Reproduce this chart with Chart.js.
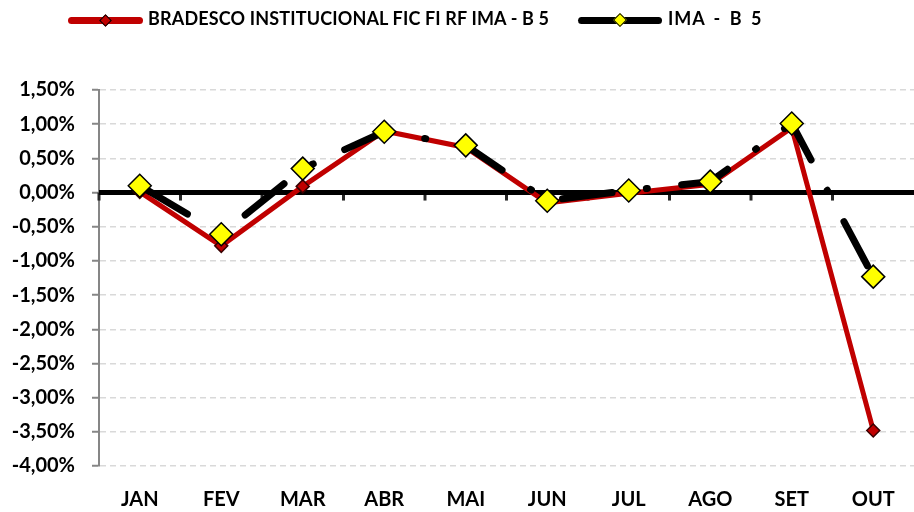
<!DOCTYPE html>
<html>
<head>
<meta charset="utf-8">
<script src="https://cdn.jsdelivr.net/npm/chart.js@4.4.1/dist/chart.umd.min.js"></script>
<style>
  html, body { margin: 0; padding: 0; background: #fff; }
  #wrap { position: relative; width: 914px; height: 512px; }
  #chart { position: absolute; left: 0; top: 0; }
  .lg-line { position: absolute; height: 7px; border-radius: 4px; }
  .lg-mark { position: absolute; transform: rotate(45deg); box-sizing: border-box; border: 1.5px solid #000; }
  .lg-text { position: absolute; top: 7px; font: bold 18px Lato, 'Liberation Sans', sans-serif; color: #000; white-space: nowrap; }
</style>
</head>
<body>
<div id="wrap">
  <canvas id="chart" width="914" height="512"></canvas>
  <div class="lg-line" style="left:68px;top:17px;width:75px;background:#C00000"></div>
  <div class="lg-mark" style="left:101px;top:16px;width:9px;height:9px;background:#C00000"></div>
  <div class="lg-text" style="left:148px;letter-spacing:0.15px">BRADESCO INSTITUCIONAL FIC FI RF IMA - B 5</div>
  <div class="lg-line" style="left:578px;top:17px;width:84px;background:#000"></div>
  <div class="lg-mark" style="left:615px;top:15px;width:10px;height:10px;background:#FFFF00"></div>
  <div class="lg-text" style="left:668px;word-spacing:3px;letter-spacing:1px">IMA - B 5</div>
</div>
<script>
  var MONTHS = ['JAN', 'FEV', 'MAR', 'ABR', 'MAI', 'JUN', 'JUL', 'AGO', 'SET', 'OUT'];
  var FUND = [0.01, -0.78, 0.09, 0.90, 0.66, -0.15, -0.01, 0.12, 0.95, -3.48];
  var IMA_B5 = [0.10, -0.61, 0.35, 0.89, 0.69, -0.12, 0.03, 0.16, 1.01, -1.23];
  var Y_MIN = -4, Y_MAX = 1.5, Y_STEP = 0.5;

  function pct(v) {
    return v.toFixed(2).replace('.', ',') + '%';
  }

  // eixo horizontal em 0% com marcas entre as categorias
  var zeroAxis = {
    id: 'zeroAxis',
    beforeDatasetsDraw: function (chart) {
      var ctx = chart.ctx, area = chart.chartArea;
      var x = chart.scales.x, y = chart.scales.y;
      var y0 = y.getPixelForValue(0);
      var step = x.getPixelForValue(1) - x.getPixelForValue(0);
      ctx.save();
      ctx.strokeStyle = '#262626';
      ctx.lineWidth = 3;
      for (var i = 0; i < MONTHS.length; i++) {
        var px = x.getPixelForValue(i) - step / 2;
        ctx.beginPath();
        ctx.moveTo(px, y0);
        ctx.lineTo(px, y0 + 8);
        ctx.stroke();
      }
      ctx.strokeStyle = '#000';
      ctx.lineWidth = 5;
      ctx.beginPath();
      ctx.moveTo(area.left, y0);
      ctx.lineTo(area.right, y0);
      ctx.stroke();
      ctx.restore();
    }
  };

  new Chart(document.getElementById('chart'), {
    type: 'line',
    data: {
      labels: MONTHS,
      datasets: [
        {
          label: 'BRADESCO INSTITUCIONAL FIC FI RF IMA - B 5',
          data: FUND,
          order: 1,
          clip: false,
          borderColor: '#C00000',
          borderWidth: 5,
          tension: 0,
          pointStyle: 'rectRot',
          pointRadius: 6.5,
          pointBackgroundColor: '#C00000',
          pointBorderColor: '#3a0000',
          pointBorderWidth: 1.5
        },
        {
          label: 'IMA - B 5',
          data: IMA_B5,
          order: 0,
          clip: false,
          borderColor: '#000',
          borderWidth: 7,
          borderDash: [50, 34.5, 1, 34.5],
          borderDashOffset: 114.5,
          borderCapStyle: 'round',
          tension: 0,
          pointStyle: 'rectRot',
          pointRadius: 11.5,
          pointBackgroundColor: '#FFFF00',
          pointBorderColor: '#000',
          pointBorderWidth: 1.5
        }
      ]
    },
    options: {
      responsive: false,
      animation: false,
      layout: {autoPadding: false, padding: {top: 90, right: 0, left: 0, bottom: 0}},
      plugins: {legend: {display: false}, tooltip: {enabled: false}},
      elements: {point: {hoverRadius: 0}},
      scales: {
        x: {
          offset: true,
          grid: {display: false, drawTicks: false, offset: true},
          border: {display: false},
          ticks: {color: '#000', padding: 22, font: {family: 'Lato', weight: 'bold', size: 20}},
          afterFit: function (s) { s.height = 46; s.paddingLeft = 0; s.paddingRight = 0; }
        },
        y: {
          min: Y_MIN,
          max: Y_MAX,
          grid: {color: function (c) { return c.tick && c.tick.value === 0 ? 'rgba(0,0,0,0)' : '#d9d9d9'; }, lineWidth: 1.5, tickLength: 7, tickColor: '#868686', tickWidth: 2, tickBorderDash: []},
          border: {display: true, color: '#868686', width: 2, dash: [6, 4]},
          ticks: {stepSize: Y_STEP, color: '#000', padding: 17, font: {family: 'Lato', weight: 'bold', size: 20}, callback: function (v) { return pct(v); }},
          afterFit: function (s) { s.width = 99; }
        }
      }
    },
    plugins: [zeroAxis]
  });
</script>
</body>
</html>
